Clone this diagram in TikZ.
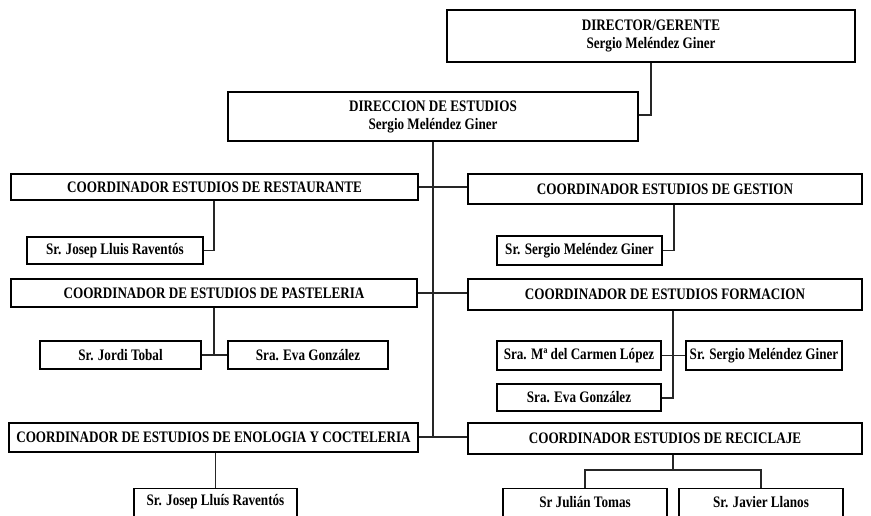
\documentclass[tikz,border=0pt]{standalone}
\usepackage{fontspec}
\setmainfont{Liberation Serif}[FakeStretch=0.82]
\begin{document}
\begin{tikzpicture}[x=1pt,y=-1pt,
  box/.style={draw=black,line width=1.3pt,fill=white,inner sep=0pt,font=\bfseries\fontsize{16}{18}\selectfont,align=center},
  conn/.style={draw=black!85,line width=1.3pt}]
\useasboundingbox (0,0) rectangle (871,516);
\begin{scope}
\clip (0,0) rectangle (871,516);
% boxes
\node[box,minimum width=408pt,minimum height=52pt] (dir) at (651,36) {DIRECTOR/GERENTE\\Sergio Meléndez Giner};
\node[box,minimum width=410pt,minimum height=49pt] (dire) at (433,116.5) {DIRECCION DE ESTUDIOS\\Sergio Meléndez Giner};
\node[box,minimum width=407pt,minimum height=26pt] (rest) at (214.5,187) {COORDINADOR ESTUDIOS DE RESTAURANTE};
\node[box,minimum width=394pt,minimum height=30pt] (gest) at (665,189) {COORDINADOR ESTUDIOS DE GESTION};
\node[box,minimum width=176pt,minimum height=27pt] (rsub) at (115,250.5) {Sr. Josep Lluis Raventós};
\node[box,minimum width=165pt,minimum height=29pt] (gsub) at (579.5,250.5) {Sr. Sergio Meléndez Giner};
\node[box,minimum width=406pt,minimum height=28pt] (past) at (214,293) {COORDINADOR DE ESTUDIOS DE PASTELERIA};
\node[box,minimum width=394pt,minimum height=31pt] (form) at (665,294.5) {COORDINADOR DE ESTUDIOS FORMACION};
\node[box,minimum width=161pt,minimum height=28pt] (tobal) at (120.5,355) {Sr. Jordi Tobal};
\node[box,minimum width=160pt,minimum height=28pt] (evap) at (308,355) {Sra. Eva González};
\node[box,minimum width=164pt,minimum height=29pt] (carmen) at (579,355.5) {Sra. Mª del Carmen López};
\node[box,minimum width=156pt,minimum height=29pt] (sergf) at (764,355.5) {Sr. Sergio Meléndez Giner};
\node[box,minimum width=164pt,minimum height=27pt] (evaf) at (579,397.5) {Sra. Eva González};
\node[box,minimum width=409pt,minimum height=29pt] (enol) at (213.5,437.5) {COORDINADOR DE ESTUDIOS DE ENOLOGIA Y COCTELERIA};
\node[box,minimum width=394pt,minimum height=31pt] (reci) at (665,438.5) {COORDINADOR ESTUDIOS DE RECICLAJE};
\node[box,minimum width=163pt,minimum height=30pt,anchor=north] (esub) at (215.5,488) {\rule{0pt}{0pt}\\[-10pt]Sr. Josep Lluís Raventós};
\node[box,minimum width=164pt,minimum height=30pt,anchor=north] (jul) at (585,488) {\rule{0pt}{0pt}\\[-10pt]Sr Julián Tomas};
\node[box,minimum width=164pt,minimum height=30pt,anchor=north] (jav) at (761,488) {\rule{0pt}{0pt}\\[-10pt]Sr. Javier Llanos};
\end{scope}
% coordinates
\coordinate (c1) at (651,115);
\coordinate (spine) at (433,437);
\coordinate (r1) at (214,250);
\coordinate (g1) at (674,251);
\coordinate (p1) at (214,355);
\coordinate (f1) at (673,355.5);
\coordinate (f2) at (673,398);
\coordinate (k1) at (673,470);
\coordinate (k2) at (585,470);
\coordinate (k3) at (761,470);
% connectors
\draw[conn] (dir.south -| c1) |- (dire.east |- c1);
\draw[conn] (dire.south) -- (spine);
\draw[conn] (rest.east |- 0,187) -- (gest.west |- 0,187);
\draw[conn] (past.east |- 0,293) -- (form.west |- 0,293);
\draw[conn] (enol.east |- 0,437) -- (reci.west |- 0,437);
\draw[conn] (rest.south -| r1) |- (rsub.east);
\draw[conn] (gest.south -| g1) |- (gsub.east);
\draw[conn] (past.south -| p1) -- (p1);
\draw[conn] (tobal.east) -- (evap.west);
\draw[conn] (form.south -| f1) -- (f2) -- (evaf.east |- f2);
\draw[conn] (carmen.east) -- (sergf.west);
\draw[conn] (enol.south -| esub.north) -- (esub.north);
\draw[conn] (reci.south -| k1) -- (k1);
\draw[conn] (k2 |- jul.north) |- (k3) -- (k3 |- jav.north);
\end{tikzpicture}
\end{document}
